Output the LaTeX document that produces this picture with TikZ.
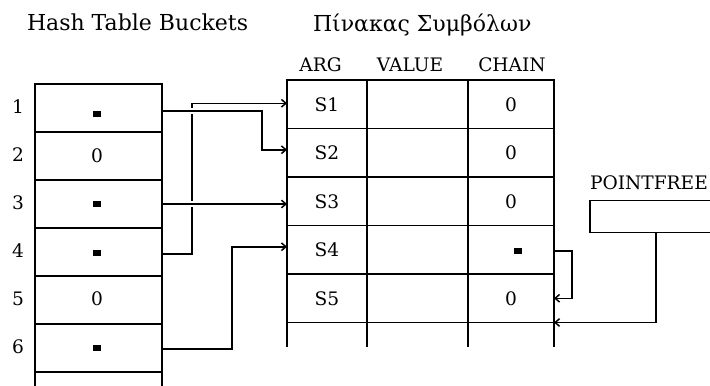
\documentclass[tikz,border=0pt]{standalone}
\usepackage{fontspec}
\setmainfont{DejaVu Serif}
\usetikzlibrary{arrows.meta,calc}
\begin{document}
\begin{tikzpicture}[x=0.5pt,y=-0.5pt,
  every node/.style={inner sep=0pt, outer sep=0pt},
  grid/.style={draw, line width=0.75pt},
  bucket/.style={grid, minimum width=63.5pt, minimum height=24pt},
  argcell/.style={grid, minimum width=40pt, minimum height=24.25pt},
  valcell/.style={grid, minimum width=50.5pt, minimum height=24.25pt},
  chcell/.style={grid, minimum width=43pt, minimum height=24.25pt},
  title/.style={font=\fontsize{11}{13}\selectfont, anchor=base west},
  head/.style={font=\fontsize{9.3}{11}\selectfont, anchor=base},
  txt/.style={font=\fontsize{9.3}{11}\selectfont},
  dotmark/.style={fill, minimum width=4pt, minimum height=3pt},
  ptr/.style={draw, line width=0.75pt, -{Straight Barb[length=2.2pt,width=3.8pt]}},
  hop/.style={preaction={draw=white, -, line width=3pt, shorten <=12pt, shorten >=#1}}
]
\useasboundingbox (0,0) rectangle (710,385);
\clip (0,0) rectangle (710,385);

% titles
\node[title] (t1) at (27,31) {Hash Table Buckets};
\node[title] (t2) at (313,32) {Πίνακας Συμβόλων};

% hash table buckets
\foreach \i in {1,...,7}
  \node[bucket] (b\i) at (98.5,{84+48*(\i-0.5)}) {};
\foreach \i in {1,...,6}
  \node[txt] (n\i) at (18,{84+48*(\i-0.5)-1}) {\i};

% bucket contents
\node[dotmark] (m1) at (97,113.5) {};
\node[txt]  (z2) at (97,156) {0};
\node[dotmark] (m3) at (97,204) {};
\node[dotmark] (m4) at (97,253) {};
\node[txt]  (z5) at (97,299) {0};
\node[dotmark] (m6) at (97,348) {};

% symbol table
\node[head] (hA) at (320.5,71) {ARG};
\node[head] (hV) at (410,71) {VALUE};
\node[head] (hC) at (512,71) {CHAIN};
\foreach \j in {1,...,5} {
  \node[argcell] (a\j) at (327,{80+48.5*(\j-0.5)}) {};
  \node[valcell] (v\j) at (417.5,{80+48.5*(\j-0.5)}) {};
  \node[chcell]  (c\j) at (511,{80+48.5*(\j-0.5)}) {};
  \node[txt] (s\j) at (a\j) {S\j};
}
\draw[line width=0.75pt] (a5.south west) -- ++(0,24)
  (a5.south east) -- ++(0,24)
  (v5.south east) -- ++(0,24)
  (c5.south east) -- ++(0,24);

% chain contents
\node[txt]  (o1) at (c1) {0};
\node[txt]  (o2) at (c2) {0};
\node[txt]  (o3) at (c3) {0};
\node[dotmark] (q4) at (518,251) {};
\node[txt]  (o5) at (c5) {0};

% free list pointer
\node[head, anchor=base west] (hP) at (590,189) {POINTFREE};
\node[grid, minimum width=66pt, minimum height=16pt] (pf) at (656,216.7) {};

% bucket pointers
\draw[ptr] ($(b4.east)+(0,2)$) -- ++(30,0) |- ($(a1.west)+(0,-1)$);
\draw[ptr, hop=10pt] ($(b1.east)+(0,3)$) -- ++(100,0) |- ($(a2.west)+(0,-3)$);
\draw[ptr, hop=40pt] (b3.east) -- (b3.east -| a3.west);
\draw[ptr] ($(b6.east)+(0,1)$) -- ++(70,0) |- ($(a4.west)+(0,-3)$);

% chain pointers
\draw[ptr] ($(c4.east)+(0,1)$) -- ++(18,0) |- (c5.east);
\draw[ptr] (pf.south) |- (c5.south east);
\end{tikzpicture}
\end{document}
